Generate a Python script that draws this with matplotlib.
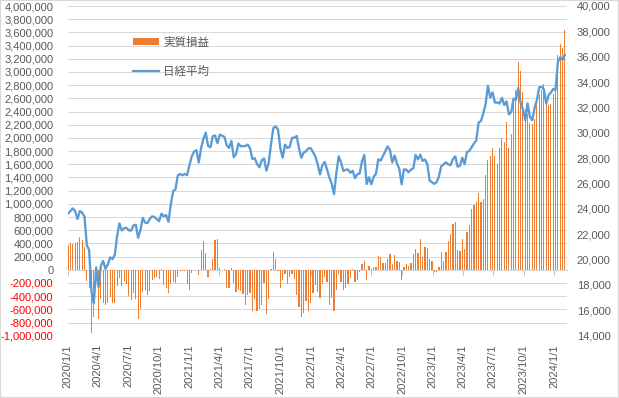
import numpy as np
import pandas as pd
import matplotlib
matplotlib.use("Agg")
import matplotlib.pyplot as plt
import matplotlib.dates as mdates
from matplotlib.patches import Rectangle, Patch
from matplotlib.lines import Line2D
from matplotlib.font_manager import FontProperties

# ---------------- data ----------------
weeks = pd.date_range("2020-01-03", periods=214, freq="7D")

# 実質損益 (thousand yen), weekly
pnl_thousand_yen = [
    380, 400, 395, 405, 415, 500, 455, 350, -165, -270,
    -960, -720, -150, -750, -440, -510, -530, -510, -410, -510,
    -510, -240, -130, -250, -170, -220, -400, -460, -350, -440,
    -740, -600, -340, -310, -390, -320, -150, -130, -110, -140,
    10, -230, -280, -360, -220, -180, -200, -110, -20, -20,
    -20, -210, -310, -50, -5, -10, -80, 300, 440, 250,
    -110, 10, 170, 450, 470, 30, -10, 10, -270, -280,
    30, -200, -340, -300, -320, -370, -540, -390, -350, -630,
    -450, -630, -600, -530, -200, -670, -440, 15, 270, 160,
    -20, -280, -150, -70, -220, -110, -70, -140, -380, -570,
    -710, -650, -480, -630, -500, -350, -230, -340, -430, -220,
    -110, -190, -540, -430, -620, -310, -60, -190, -300, -280,
    -220, -130, 10, -180, -160, -30, 80, 140, -160, 60,
    10, 35, 45, 210, 200, 100, 100, 160, 240, 90,
    230, 140, 120, -150, 40, 90, 60, 110, 240, 320,
    260, 470, 200, 350, 330, 170, 130, -35, -35, 45,
    270, 140, 270, 440, 545, 700, 730, 300, 290, 470,
    320, 570, 680, 920, 975, 1030, 1165, 1030, 1075, 1440,
    1670, 1720, 1850, 1720, 1610, 1840, 2000, 1945, 2240, 1840,
    2060, 2520, 2730, 3150, 3020, 2700, 2440, 2360, 2220, 2210,
    2290, 2580, 2650, 2730, 2820, 2550, 2500, 2520, 2660, 2850,
    3250, 3430, 3370, 3640,
]

# 日経平均 (yen), weekly
nikkei = [
    23650, 23850, 24040, 23830, 23200, 23830, 23690, 23390, 21140, 20750,
    17430, 16550, 19390, 17820, 19500, 19900, 19260, 19620, 20180, 20040,
    20390, 21880, 22860, 22300, 22480, 22510, 22310, 22290, 22700, 22750,
    21710, 22330, 23290, 22920, 22880, 23210, 23410, 23360, 23200, 23030,
    23620, 23410, 23520, 22980, 24330, 25390, 25530, 26640, 26750, 26650,
    26760, 26660, 27440, 28140, 28520, 28630, 27660, 28780, 29520, 30020,
    28970, 28860, 29720, 29790, 29180, 29850, 29770, 29680, 29020, 28810,
    29360, 28080, 28320, 29150, 28940, 28950, 28960, 29070, 28780, 27940,
    28000, 27550, 27280, 27820, 27980, 27010, 27640, 29130, 30380, 30500,
    30250, 28770, 28050, 29070, 28800, 28890, 29610, 29610, 29750, 28750,
    28030, 28440, 28550, 28780, 28790, 28480, 28120, 27520, 26720, 27440,
    27700, 27120, 26480, 25990, 25160, 26830, 28150, 27670, 26990, 27090,
    27100, 26850, 27000, 26430, 26740, 26780, 27760, 28250, 25960, 26490,
    25940, 26520, 26790, 27910, 27800, 28180, 28550, 28930, 28640, 27650,
    28210, 27570, 27150, 25940, 27120, 27090, 26890, 27100, 27200, 28260,
    27900, 28280, 27780, 27900, 27530, 26240, 26100, 25970, 26120, 26550,
    27380, 27510, 27670, 27510, 27450, 27930, 28140, 27330, 27390, 28040,
    27520, 28490, 28560, 28860, 29160, 29390, 30810, 30920, 31520, 32270,
    33710, 32780, 33190, 32390, 32390, 32300, 32760, 32190, 32470, 31450,
    31620, 32710, 32610, 33530, 32400, 31860, 31000, 32320, 31260, 30990,
    31950, 32570, 33590, 33630, 33430, 32310, 32970, 33170, 33460, 33380,
    35580, 35960, 35750, 36160,
]

left_ticks = list(range(-1000000, 4000001, 200000))
right_ticks = list(range(14000, 40001, 2000))
x_tick_labels = [
    "2020/1/1", "2020/4/1", "2020/7/1", "2020/10/1",
    "2021/1/1", "2021/4/1", "2021/7/1", "2021/10/1",
    "2022/1/1", "2022/4/1", "2022/7/1", "2022/10/1",
    "2023/1/1", "2023/4/1", "2023/7/1", "2023/10/1",
    "2024/1/1",
]
legend_labels = ["実質損益", "日経平均"]

# ---------------- style ----------------
BAR_C = "#ED7D31"
LINE_C = "#5B9BD5"
GRID_C = "#D9D9D9"
TXT_C = "#595959"
NUM_FONT = FontProperties(family=["Liberation Sans", "DejaVu Sans"], size=8)
JP_FONT = FontProperties(family=["Noto Sans CJK JP", "DejaVu Sans"], size=8.3)

W, H = 619, 398
fig = plt.figure(figsize=(W / 100, H / 100), dpi=100)
fig.patch.set_facecolor("white")

left_px, right_px, top_px, bot_px = 67.5, 566.7, 6.0, 335.7
ax = fig.add_axes([left_px / W, 1 - bot_px / H, (right_px - left_px) / W, (bot_px - top_px) / H])
ax2 = ax.twinx()

pnl = np.array(pnl_thousand_yen) * 1000
xdates = mdates.date2num(weeks.to_pydatetime())
ax.bar(xdates, pnl, width=3.5, color=BAR_C, linewidth=0, antialiased=False, zorder=2)

ax2.plot(xdates, nikkei, color=LINE_C, lw=1.65, solid_joinstyle="round", zorder=3)

# x axis
tick_pos = mdates.date2num([pd.Timestamp(s.replace("/", "-")).to_pydatetime() for s in x_tick_labels])
ax.set_xlim(mdates.date2num(pd.Timestamp("2020-01-01")), mdates.date2num(pd.Timestamp("2024-02-07 12:00")))
ax.set_xticks(tick_pos)
ax.set_xticklabels(x_tick_labels, rotation=90, fontproperties=NUM_FONT, color=TXT_C)
ax.tick_params(axis="x", length=0, pad=6)

# zero axis line with tick marks
sec = ax.secondary_xaxis(0, transform=ax.transData)
sec.set_xticks(tick_pos)
sec.tick_params(axis="x", length=3.6, width=0.75, color="#BFBFBF", labelbottom=False, direction="out")
for s in sec.spines.values():
    s.set_color("#BFBFBF")
    s.set_linewidth(0.75)

# left y axis
ax.set_ylim(-1000000, 4000000)
ax.set_yticks(left_ticks)
ax.set_yticklabels([f"{v:,}" for v in left_ticks], fontproperties=NUM_FONT)
for lab, v in zip(ax.get_yticklabels(), left_ticks):
    lab.set_color("#FF0000" if v < 0 else TXT_C)
ax.tick_params(axis="y", length=0, pad=10.2)
ax.yaxis.grid(True, color=GRID_C, lw=0.75)
ax.set_axisbelow(True)

# right y axis
ax2.set_ylim(14000, 40000)
ax2.set_yticks(right_ticks)
ax2.set_yticklabels([f"{v:,}" for v in right_ticks], fontproperties=NUM_FONT, color=TXT_C)
ax2.tick_params(axis="y", length=0, pad=7.2)

for a in (ax, ax2):
    for s in a.spines.values():
        s.set_visible(False)

# legend
handles = [Patch(facecolor=BAR_C, edgecolor="none"), Line2D([], [], color=LINE_C, lw=1.6)]
fig.legend(handles, legend_labels, loc="upper left", bbox_to_anchor=(133 / W, 1 - 36 / H),
           frameon=False, borderpad=0, borderaxespad=0, handlelength=2.25, handleheight=0.55,
           handletextpad=0.35, labelspacing=1.35, prop=JP_FONT, labelcolor=TXT_C)

# chart border
fig.add_artist(Rectangle((0, 0), 1, 1, transform=fig.transFigure, fill=False, edgecolor=GRID_C, lw=1.5))

fig.savefig("out.png", dpi=100)
